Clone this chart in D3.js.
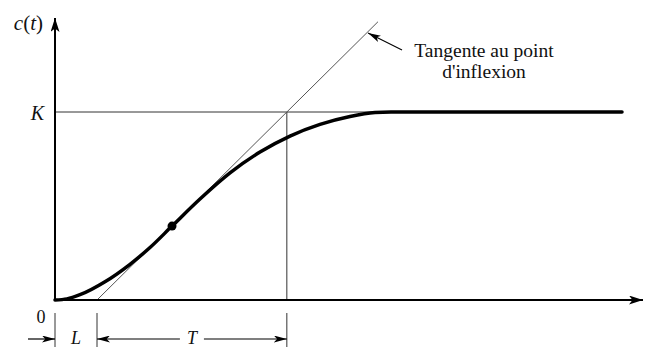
<!DOCTYPE html>
<html>
<head>
<meta charset="utf-8">
<script src="https://cdn.jsdelivr.net/npm/d3@7"></script>
<style>
  html, body { margin: 0; padding: 0; background: #ffffff; }
  svg { display: block; }
</style>
</head>
<body>
<div id="chart"></div>
<script>
// Step response c(t) with tangent at the inflection point (L, T, K)

// curve (t in units of L, c normalised to K)
const timeValues     = [0, 0.286, 0.595, 1.190, 1.786, 2.262, 2.786, 3.452, 4.167, 4.881, 5.595, 6.310, 7.024, 7.619, 8.0, 13.5];
const responseValues = [0, 0.006, 0.028, 0.097, 0.190, 0.279, 0.393, 0.537, 0.676, 0.787, 0.872, 0.934, 0.976, 0.997, 1.0, 1.0];

const inflection = [2.786, 0.393];
const paramL = 1;
const paramT = 4.52;
const paramK = 1;
const tangentTop = 1.48;   // c value where the drawn tangent stops

const annotationLines = ["Tangente au point", "d'inflexion"];

const width = 646, height = 347;

const svg = d3.select("#chart")
    .append("svg")
    .attr("width", width)
    .attr("height", height);

const x = d3.scaleLinear().domain([0, 14]).range([55, 643]);
const y = d3.scaleLinear().domain([0, 1.5]).range([300, 18]);

const serif = "'Liberation Serif', 'DejaVu Serif', serif";

// arrow markers
const defs = svg.append("defs");
function marker(id, w, h) {
    defs.append("marker")
        .attr("id", id)
        .attr("viewBox", `0 0 ${w} ${h}`)
        .attr("refX", w).attr("refY", h / 2)
        .attr("markerWidth", w).attr("markerHeight", h)
        .attr("markerUnits", "userSpaceOnUse")
        .attr("orient", "auto-start-reverse")
        .append("path")
        .attr("d", `M0,0 L${w},${h / 2} L0,${h} L${w * 0.25},${h / 2} Z`)
        .attr("fill", "#000");
}
marker("axisArrow", 14, 9);
marker("dimArrow", 13, 7);

// K reference line and vertical at L+T
svg.append("line")
    .attr("x1", x(0)).attr("x2", x(7.6))
    .attr("y1", y(paramK)).attr("y2", y(paramK))
    .attr("stroke", "#333").attr("stroke-width", 1);

svg.append("line")
    .attr("x1", x(paramL + paramT)).attr("x2", x(paramL + paramT))
    .attr("y1", y(paramK)).attr("y2", y(0))
    .attr("stroke", "#333").attr("stroke-width", 1);

// tangent line
svg.append("line")
    .attr("x1", x(paramL)).attr("y1", y(0))
    .attr("x2", x(paramL + paramT * tangentTop / paramK)).attr("y2", y(tangentTop))
    .attr("stroke", "#555").attr("stroke-width", 1);

// axes
svg.append("line")
    .attr("x1", x(0)).attr("y1", y(0))
    .attr("x2", x(14)).attr("y2", y(0))
    .attr("stroke", "#000").attr("stroke-width", 2)
    .attr("marker-end", "url(#axisArrow)");

svg.append("line")
    .attr("x1", x(0)).attr("y1", y(0) + 1)
    .attr("x2", x(0)).attr("y2", y(1.5))
    .attr("stroke", "#000").attr("stroke-width", 2)
    .attr("marker-end", "url(#axisArrow)");

// response curve
const line = d3.line()
    .x((d, i) => x(timeValues[i]))
    .y(d => y(d))
    .curve(d3.curveMonotoneX);

svg.append("path")
    .datum(responseValues)
    .attr("d", line)
    .attr("fill", "none")
    .attr("stroke", "#000")
    .attr("stroke-width", 3.5)
    .attr("stroke-linecap", "round");

svg.append("circle")
    .attr("cx", x(inflection[0]))
    .attr("cy", y(inflection[1]))
    .attr("r", 4.5)
    .attr("fill", "#000");

// axis labels
const cLabel = svg.append("text")
    .attr("x", 43).attr("y", 30)
    .attr("text-anchor", "end")
    .attr("font-family", serif)
    .attr("font-size", 21)
    .attr("fill", "#111");
cLabel.append("tspan").attr("font-style", "italic").text("c");
cLabel.append("tspan").text("(");
cLabel.append("tspan").attr("font-style", "italic").text("t");
cLabel.append("tspan").text(")");

svg.append("text")
    .attr("x", 44).attr("y", 120)
    .attr("text-anchor", "end")
    .attr("font-family", serif)
    .attr("font-style", "italic")
    .attr("font-size", 20)
    .attr("fill", "#111")
    .text("K");

// annotation
const ann = svg.append("text")
    .attr("font-family", serif)
    .attr("font-size", 19.5)
    .attr("fill", "#111")
    .attr("text-anchor", "middle");
annotationLines.forEach((t, i) => {
    ann.append("tspan")
        .attr("x", 484)
        .attr("y", 56.5 + i * 21)
        .text(t);
});

svg.append("line")
    .attr("x1", 402).attr("y1", 50)
    .attr("x2", 368).attr("y2", 33)
    .attr("stroke", "#000").attr("stroke-width", 1.2)
    .attr("marker-end", "url(#dimArrow)");

// dimension marks below the axis
const dimY = 339;
[0, paramL, paramL + paramT].forEach(t => {
    svg.append("line")
        .attr("x1", x(t)).attr("x2", x(t))
        .attr("y1", 313).attr("y2", 347)
        .attr("stroke", "#333").attr("stroke-width", 1);
});

svg.append("line")
    .attr("x1", 28).attr("x2", x(0))
    .attr("y1", dimY).attr("y2", dimY)
    .attr("stroke", "#000").attr("stroke-width", 1.2)
    .attr("marker-end", "url(#dimArrow)");

svg.append("line")
    .attr("x1", x(paramL)).attr("x2", x(paramL + paramT / 2) - 12)
    .attr("y1", dimY).attr("y2", dimY)
    .attr("stroke", "#000").attr("stroke-width", 1.2)
    .attr("marker-start", "url(#dimArrow)");

svg.append("line")
    .attr("x1", x(paramL + paramT / 2) + 12).attr("x2", x(paramL + paramT))
    .attr("y1", dimY).attr("y2", dimY)
    .attr("stroke", "#000").attr("stroke-width", 1.2)
    .attr("marker-end", "url(#dimArrow)");

svg.append("text")
    .attr("x", 41).attr("y", 323)
    .attr("text-anchor", "middle")
    .attr("font-family", serif)
    .attr("font-size", 18)
    .attr("fill", "#111")
    .text("0");

svg.append("text")
    .attr("x", x(paramL / 2)).attr("y", 344)
    .attr("text-anchor", "middle")
    .attr("font-family", serif)
    .attr("font-style", "italic")
    .attr("font-size", 18)
    .attr("fill", "#111")
    .text("L");

svg.append("text")
    .attr("x", x(paramL + paramT / 2)).attr("y", 344)
    .attr("text-anchor", "middle")
    .attr("font-family", serif)
    .attr("font-style", "italic")
    .attr("font-size", 18)
    .attr("fill", "#111")
    .text("T");
</script>
</body>
</html>
